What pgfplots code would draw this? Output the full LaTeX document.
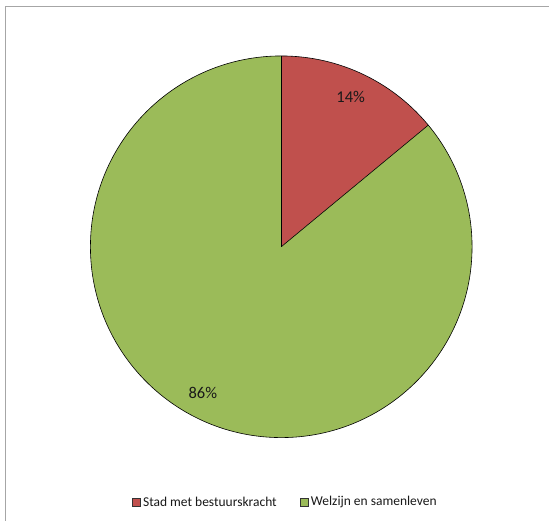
\documentclass[border=0pt]{standalone}
\usepackage{fontspec}
\setmainfont{Carlito}
\usepackage{pgfplots}
\usepackage{pgfplotstable}
\pgfplotsset{compat=1.18}
\definecolor{sred}{HTML}{C0504D}
\definecolor{sgreen}{HTML}{9BBB59}
\pgfplotstableread{
label value
Stad 14
Welzijn 86
}\piedata
\pgfplotstablegetelem{0}{value}\of\piedata \edef\va{\pgfplotsretval}
\pgfplotstablegetelem{1}{value}\of\piedata \edef\vb{\pgfplotsretval}
\pgfmathsetmacro\angA{90-3.6*\va}
\pgfmathsetmacro\angB{\angA-3.6*\vb}
\begin{document}
\begin{tikzpicture}
\begin{axis}[
  scale only axis, width=549pt, height=521pt,
  xmin=0, xmax=549, ymin=0, ymax=521,
  hide axis, clip=false,
]
\path[fill=white] (axis cs:0,0) rectangle (axis cs:549,521);
\draw[gray!70, line width=1pt] (axis cs:6,0) -- (axis cs:6,514) -- (axis cs:549,514);
% pie
\fill[sred] (axis cs:281.5,274) -- ++(\angA:191pt) arc[start angle=\angA, end angle=90, radius=191pt] -- cycle;
\fill[sgreen] (axis cs:281.5,274) -- ++(\angB:191pt) arc[start angle=\angB, end angle=\angA, radius=191pt] -- cycle;
\draw[black, line width=0.6pt] (axis cs:281.5,274) circle[radius=191pt];
\draw[black, line width=0.6pt] (axis cs:281.5,274) -- ++(90:191pt);
\draw[black, line width=0.6pt] (axis cs:281.5,274) -- ++(\angA:191pt);
\node[font=\fontsize{16.5}{19}\selectfont, text=black!90] at (axis cs:351,424) {\va\%};
\node[font=\fontsize{16.5}{19}\selectfont, text=black!90] at (axis cs:203,128) {\vb\%};
% legend
\draw[black!80, fill=sred, line width=0.6pt] (axis cs:132.5,14.5) rectangle (axis cs:140.5,22.5);
\node[anchor=west, font=\fontsize{13.5}{16}\selectfont, text=black!90, inner sep=0pt] at (axis cs:143,18.5) {Stad met bestuurskracht};
\draw[black!80, fill=sgreen, line width=0.6pt] (axis cs:300.5,14.5) rectangle (axis cs:308.5,22.5);
\node[anchor=west, font=\fontsize{13.5}{16}\selectfont, text=black!90, inner sep=0pt] at (axis cs:311,18.5) {Welzijn en samenleven};
\end{axis}
\end{tikzpicture}
\end{document}
